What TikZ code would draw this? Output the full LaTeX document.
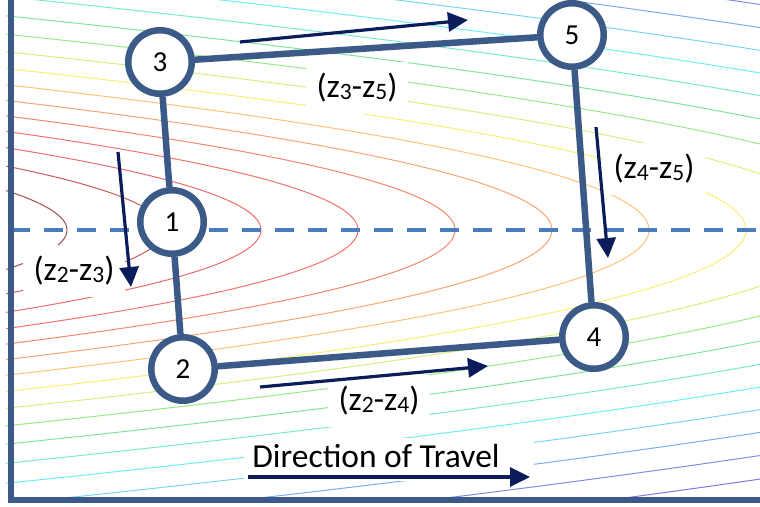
\documentclass[tikz,border=0pt]{standalone}
\usepackage{fontspec}
\setmainfont{Carlito}
\usepackage{tikz}
\usetikzlibrary{arrows.meta,fit,backgrounds}
\definecolor{AxisBlue}{HTML}{3B5A87}
\definecolor{DashBlue}{HTML}{4A7CC0}
\definecolor{StepNavy}{HTML}{0B1C5A}
\pgfdeclarelayer{contours}
\pgfsetlayers{contours,background,main}
\newcommand{\zsub}[1]{\raisebox{-2pt}{\fontsize{23.5}{24}\selectfont #1}}

\begin{document}
\begin{tikzpicture}[x=1pt, y=-1pt,
  lvl/.style={line width=1pt},
  axisline/.style={draw=AxisBlue, line width=6pt},
  midline/.style={draw=DashBlue, line width=4.5pt, dash pattern=on 19pt off 14pt},
  simp/.style={circle, draw=AxisBlue, fill=white, line width=6.5pt,
               minimum size=63.5pt, inner sep=0pt, font=\fontsize{29}{30}\selectfont},
  link/.style={draw=AxisBlue, line width=6.5pt},
  move/.style={draw=StepNavy, line width=3.2pt, -{Triangle[length=20pt,width=19pt]}},
  lbl/.style={fill=white, inner sep=11pt, font=\fontsize{33.5}{36}\selectfont},
]
\useasboundingbox (0,0) rectangle (760,506);

%% ---- contour levels of the objective ----
\begin{pgfonlayer}{contours}
\begin{scope}
\clip (6,0) rectangle (760,500);
\foreach \n/\hu/\sa/\br in {0/0/0.5/0.62, 1/0/0.55/0.8, 2/0/0.55/0.93, 3/2/0.55/0.95,
    4/10/0.55/0.97, 5/22/0.55/0.98, 6/34/0.55/1, 7/55/0.55/0.98, 8/75/0.5/0.95,
    9/110/0.45/0.92, 10/135/0.45/0.9, 11/165/0.5/0.92, 12/182/0.55/0.95,
    13/195/0.5/0.95, 14/215/0.5/0.95, 15/235/0.45/0.92, 16/250/0.5/0.9,
    17/262/0.5/0.88, 18/270/0.5/0.88} {
  \pgfmathsetmacro{\tip}{67+97*\n}
  \pgfmathsetmacro{\wid}{25.5+0.2*\n+0.17*\n*\n}
  \pgfmathsetmacro{\dm}{min(290,sqrt(\tip+10)*sqrt(\wid))}
  \definecolor{lvlc}{Hsb}{\hu,\sa,\br}
  \draw[lvl, lvlc] plot[domain=-\dm:\dm, samples=90, smooth, variable=\t]
    ({\tip-\t*(\t/\wid)}, {230+\t});
}
\end{scope}
\end{pgfonlayer}

%% ---- axes and valley floor ----
\draw[midline] (11,230) -- (760,230);
\draw[axisline] (11,0) |- (760,500);

%% ---- step labels ----
\node[lbl] (l35) at (357,88) {(z\zsub{3}-z\zsub{5})};
\node[lbl] (l45) at (654,169) {(z\zsub{4}-z\zsub{5})};
\node[lbl] (l23) at (74,271) {(z\zsub{2}-z\zsub{3})};
\node[lbl] (l24) at (379,401) {(z\zsub{2}-z\zsub{4})};
\node[font=\fontsize{33.5}{36}\selectfont, inner sep=2pt] (travel) at (376,456)
  {Direction of Travel};
\coordinate (t0) at (248,477);
\coordinate (t1) at (530,477);
\begin{scope}[on background layer]
  \node[fill=white, inner sep=4pt, fit=(travel)(t0)(t1)] (travelbox) {};
\end{scope}

%% ---- simplex points ----
\node[simp] (p1) at (172,222) {1};
\node[simp] (p2) at (183,369) {2};
\node[simp] (p3) at (160,62) {3};
\node[simp] (p4) at (594,337) {4};
\node[simp] (p5) at (572,35) {5};
\draw[link] (p3) -- (p1);
\draw[link] (p1) -- (p2);
\draw[link] (p2) -- (p4);
\draw[link] (p4) -- (p5);
\draw[link] (p5) -- (p3);

%% ---- moves ----
\coordinate (s35a) at (240,42);  \coordinate (s35b) at (468,20);
\coordinate (s23a) at (118,152); \coordinate (s23b) at (131,287);
\coordinate (s45a) at (596,127); \coordinate (s45b) at (608,258);
\coordinate (s24a) at (260,387); \coordinate (s24b) at (488,366);
\draw[move] (s35a) -- (s35b);
\draw[move] (s23a) -- (s23b);
\draw[move] (s45a) -- (s45b);
\draw[move] (s24a) -- (s24b);
\draw[move] (t0) -- (t1);
\end{tikzpicture}
\end{document}
